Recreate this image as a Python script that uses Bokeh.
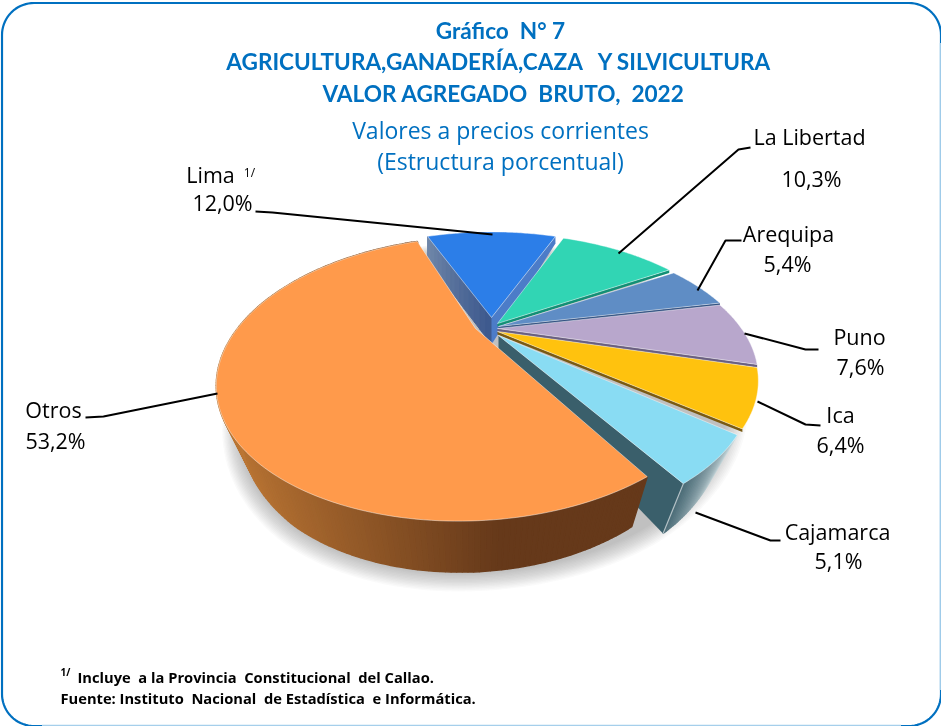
from bokeh.plotting import figure
from bokeh.embed import file_html
from bokeh.resources import INLINE
from bokeh.core.properties import value
import numpy as np

# ---- data ----
names = ["Lima", "La Libertad", "Arequipa", "Puno", "Ica", "Cajamarca", "Otros"]
shares = [12.0, 10.3, 5.4, 7.6, 6.4, 5.1, 53.2]
labels = ["12,0%", "10,3%", "5,4%", "7,6%", "6,4%", "5,1%", "53,2%"]
title_lines = ["Gráfico \u00a0N° 7", "AGRICULTURA,GANADERÍA,CAZA \u00a0 Y SILVICULTURA", "VALOR AGREGADO \u00a0BRUTO, \u00a02022"]
sub_lines = ["Valores a precios corrientes", "(Estructura porcentual)"]
foot_lines = ["Incluye \u00a0a la Provincia \u00a0Constitucional \u00a0del Callao.",
              "Fuente: Instituto \u00a0Nacional \u00a0de Estadística \u00a0e Informática."]

# ---- style / layout ----
BOLD_FONT = "Lato"
FONT = "Open Sans"
BLUE = "#0070c0"
top_col = ["#2c7ee8", "#31d5b4", "#5f8dc5", "#b8a7cc", "#ffc20e", "#89dcf3", "#ff9a4b"]
end_wall = ["#4c7cc8", "#128f75", "#2f4f80", "#6a5f80", "#7a5a12", "#3a5f6b", "#65391a"]
apex = [(491, 317), (497, 323), (498, 326), (497, 328), (497, 331), (498, 335), (475, 328)]
shear = [0, 0, 0, 0, 0, 0, 11]
scale_x = [0.97, 1.0, 1.02, 1.025, 1.025, 1.0, 1.0]
scale_y = [0.95, 1.0, 1.0, 1.0, 1.0, 1.02, 1.02]
shrink = [1.0, 1.0, 0.91, 0.91, 0.91, 0.89, 0.91]
RX, RY, P = 238, 122, 0.354
START = -21.6

p = figure(width=941, height=726, x_range=(0, 941), y_range=(726, 0), output_backend="svg",
           toolbar_location=None, min_border=0, outline_line_color=None,
           background_fill_color="white", border_fill_color="white")
p.axis.visible = False
p.xgrid.visible = False
p.ygrid.visible = False
p.styles = {"position": "fixed", "left": "0px", "top": "0px"}


def top_pt(i, t, r=1.0):
    t = np.radians(t)
    w = 1 + P * r * np.cos(t)
    x = (RX * scale_x[i] * r * np.sin(t) + shear[i] * r * np.cos(t)) / w
    y = -RY * scale_y[i] * r * np.cos(t) / w
    return apex[i][0] + x, apex[i][1] + y


def low_pt(i, t, r=1.0):
    tt = np.radians(t)
    w = 1 + P * r * np.cos(tt)
    x, y = top_pt(i, t, r)
    return apex[i][0] + (x - apex[i][0]) * shrink[i], y + np.interp(w, [0.646, 0.703, 1.0, 1.354], [51, 50, 27, 14])


def mix(a, b, f):
    ca = [int(a[k:k + 2], 16) for k in (1, 3, 5)]
    cb = [int(b[k:k + 2], 16) for k in (1, 3, 5)]
    return "#%02x%02x%02x" % tuple(int(round(u + (v - u) * f)) for u, v in zip(ca, cb))


# ---- rounded frame ----
fx0, fy0, fx1, fy1, rad = 1.5, 2.5, 940.5, 725.5, 32
a = np.radians(np.arange(0, 91, 5))
frame_x = np.concatenate([fx0 + rad - rad * np.cos(a), fx1 - rad + rad * np.sin(a),
                          fx1 - rad + rad * np.cos(a), fx0 + rad - rad * np.sin(a), [fx0]])
frame_y = np.concatenate([fy0 + rad - rad * np.sin(a), fy0 + rad - rad * np.cos(a),
                          fy1 - rad + rad * np.sin(a), fy1 - rad + rad * np.cos(a), [fy0 + rad]])
p.line(frame_x, frame_y, line_color=BLUE, line_width=2.2)
p.line([fx1, fx1], [fy0 + rad + 8, fy1 - rad - 4], line_color="#9fcbe9", line_width=2.4)
p.line([fx0 + rad + 8, fx1 - rad - 8], [fy1, fy1], line_color="#a5cfeb", line_width=2.4)

# ---- boundaries from the shares ----
edges = START + np.cumsum([0] + shares) * 3.6

# ---- soft shadow ----
for k in range(14, 0, -1):
    ts = np.linspace(0, 360, 181)
    xs, ys = low_pt(6, ts)
    cx, cy = apex[6][0] + 12, apex[6][1] + 30
    sn = np.sin(np.radians(ts))
    xs = cx + (xs - cx) * (1 + k * 0.005) + (24 + k * 0.5) * (sn > 0) * sn
    ys = cy + (ys - cy) * (1 + k * 0.0065)
    p.patch(xs, ys, fill_color="#505050", fill_alpha=0.03, line_color=None)


def draw_slice(i, outer_from=None, outer_to=None):
    t0, t1 = edges[i], edges[i + 1]
    if i == 0:
        n = 14
        for k in range(n):
            r0, r1 = 1 - k / n, 1 - (k + 1) / n
            ax, ay = top_pt(i, t0, r0)
            bx, by = top_pt(i, t0, r1)
            cx, cy = low_pt(i, t0, r1)
            dx, dy = low_pt(i, t0, r0)
            col = mix("#6f86a8", "#3e5a8e", k / (n - 1))
            p.patch([ax, bx, cx, dx], [ay, by, cy + 9 * r1, dy + 9 * r0], fill_color=col, line_color=col, line_width=1)
    if outer_from:
        ts = np.linspace(t0, t1, max(16, int((t1 - t0) * 1.5)))
        for k in range(len(ts) - 1):
            ax, ay = top_pt(i, ts[k])
            bx, by = top_pt(i, ts[k + 1])
            cx, cy = low_pt(i, ts[k + 1])
            dx, dy = low_pt(i, ts[k])
            f = k / max(1, len(ts) - 2)
            col = mix(outer_from, outer_to, f)
            p.patch([ax, bx, cx, dx], [ay, by, cy, dy], fill_color=col, line_color=col, line_width=1.2)
    ex, ey = top_pt(i, t1)
    ax, ay = top_pt(i, t1, 0)
    if i == 5:
        fx, fy = low_pt(i, t1)
        gx, gy = low_pt(i, t1, 0)
        p.patch([ax, ex, fx, gx], [ay, ey, fy, gy], fill_color=end_wall[i], line_color=None)
        p.line([ex, fx], [ey, fy], line_color="#ffffff", line_alpha=0.6, line_width=1.2)
    elif i == 0:
        gx, gy = low_pt(i, t1, 0)
        p.patch([ax, ex, ex, gx], [ay, ey, ey + 7, gy], fill_color=end_wall[i], line_color=None)
    else:
        p.patch([ax, ex, ex, ax], [ay, ey, ey + 3, ay + 3], fill_color=end_wall[i], line_color=None)
    tx, ty = top_pt(i, np.linspace(t0, t1, 60))
    p.patch(np.r_[apex[i][0], tx], np.r_[apex[i][1], ty], fill_color=top_col[i],
            line_color="#ffffff", line_alpha=0.45, line_width=1)


draw_slice(0)
for i in range(1, 5):
    draw_slice(i)
draw_slice(5, "#d5e3e6", "#4f6f7a")

# Otros: brown wall, shaded left to right
t0, t1 = edges[6], edges[7]
ts = np.linspace(t0, t1, 200)
for k in range(len(ts) - 1):
    ax, ay = top_pt(6, ts[k])
    bx, by = top_pt(6, ts[k + 1])
    cx, cy = low_pt(6, ts[k + 1])
    dx, dy = low_pt(6, ts[k])
    f = min(1.0, max(0.0, (ax - 500) / -280))
    col = mix("#66391a", "#bb7634", f)
    p.patch([ax, bx, cx, dx], [ay, by, cy, dy], fill_color=col, line_color=col, line_width=1.5)
tx, ty = top_pt(6, np.linspace(t0, t1, 160))
p.patch(np.r_[apex[6][0], tx], np.r_[apex[6][1], ty], fill_color=top_col[6],
        line_color="#ffffff", line_alpha=0.45, line_width=1)

# ---- leader lines ----
leaders = [([255, 272, 492], [211, 212, 234]),
           ([750, 738, 618], [147, 149, 253]),
           ([741, 725, 697], [240, 240, 290]),
           ([818, 805, 744], [349, 349, 333]),
           ([820, 805, 757], [425, 424, 401]),
           ([780, 770, 695], [540, 540, 512]),
           ([85, 103, 217], [417, 416, 393])]
for lx, ly in leaders:
    p.line(lx, ly, line_color="black", line_width=2)


def txt(x, y, s, size, color="black", bold=False, align="center", font=FONT):
    p.text([x], [y], text=[s], text_font=value(font), text_font_size=f"{size}px", text_color=color,
           text_font_style="bold" if bold else "normal", text_align=align, text_baseline="middle")


for x, y, s in zip([500, 499, 503], [30, 61, 93], title_lines):
    txt(x, y, s, 22.6, BLUE, True, font=BOLD_FONT)
for y, s in zip([129, 160], sub_lines):
    txt(500, y, s, 23, BLUE)

name_pos = [(210, 174), (809, 136), (788, 233), (859, 336), (840, 414), (837, 531), (53, 409)]
pct_pos = [(222, 202), (811, 178), (787, 263), (860, 366), (840, 444), (838, 560), (55, 440)]
for n, l, a, b in zip(names, labels, name_pos, pct_pos):
    txt(a[0], a[1], n, 21.5)
    txt(b[0], b[1], l, 21.5)
txt(249, 172, "1/", 12)

txt(60, 671, "1/", 10, bold=True, align="left")
txt(77, 676, foot_lines[0], 14.7, bold=True, align="left")
txt(60, 697, foot_lines[1], 14.7, bold=True, align="left")

open("out.html", "w").write(file_html(p, INLINE))
